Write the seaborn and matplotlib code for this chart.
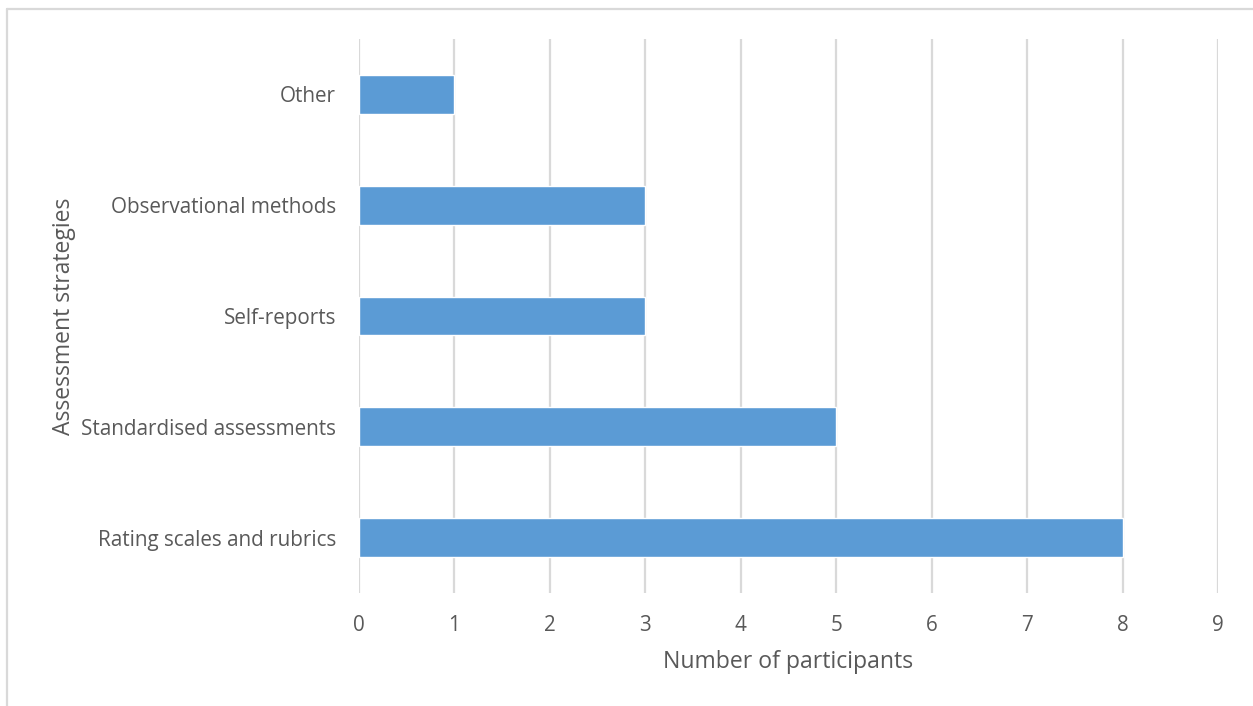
import matplotlib
matplotlib.use("Agg")
import matplotlib.pyplot as plt
import seaborn as sns
import pandas as pd
from matplotlib.lines import Line2D

categories = ["Other", "Observational methods", "Self-reports",
              "Standardised assessments", "Rating scales and rubrics"]
participants = [1, 3, 3, 5, 8]
x_ticks = [0, 1, 2, 3, 4, 5, 6, 7, 8, 9]

df = pd.DataFrame({"strategy": categories, "count": participants})

sns.set_theme(style="white")
plt.rcParams["font.family"] = ["Open Sans", "DejaVu Sans"]

W, H = 1253, 706
fig = plt.figure(figsize=(W / 100, H / 100), dpi=100)
ax = fig.add_axes([359 / W, 1 - 593 / H, (1218 - 359) / W, (593 - 39) / H])

text_col = "#595959"
grid_col = "#D9D9D9"
bar_col = "#5B9BD5"

sns.barplot(data=df, x="count", y="strategy", order=categories,
            color=bar_col, saturation=1, width=0.35, ax=ax, zorder=3)

ax.set_xlim(0, 9)
ax.set_ylim(4.5, -0.5)
ax.set_xticks(x_ticks)
ax.set_xticklabels([str(t) for t in x_ticks])
ax.xaxis.grid(True, color=grid_col, linewidth=1.6, zorder=0)
ax.yaxis.grid(False)
for s in ax.spines.values():
    s.set_visible(False)
ax.tick_params(axis="both", length=0, labelsize=14.9, labelcolor=text_col)
ax.tick_params(axis="x", pad=16)
ax.tick_params(axis="y", pad=16.5)

ax.set_xlabel("Number of participants", fontsize=16.6, color=text_col, labelpad=10)
ax.set_ylabel("Assessment strategies", fontsize=16.5, color=text_col, labelpad=4)

# outer chart border (left and top edges visible)
fig.add_artist(Line2D([7 / W, 7 / W], [0, 1 - 9 / H], transform=fig.transFigure,
                      color="#D9D9D9", linewidth=1.6))
fig.add_artist(Line2D([7 / W, 1], [1 - 9 / H, 1 - 9 / H], transform=fig.transFigure,
                      color="#D9D9D9", linewidth=1.6))

fig.savefig("out.png", dpi=100, facecolor="white")
